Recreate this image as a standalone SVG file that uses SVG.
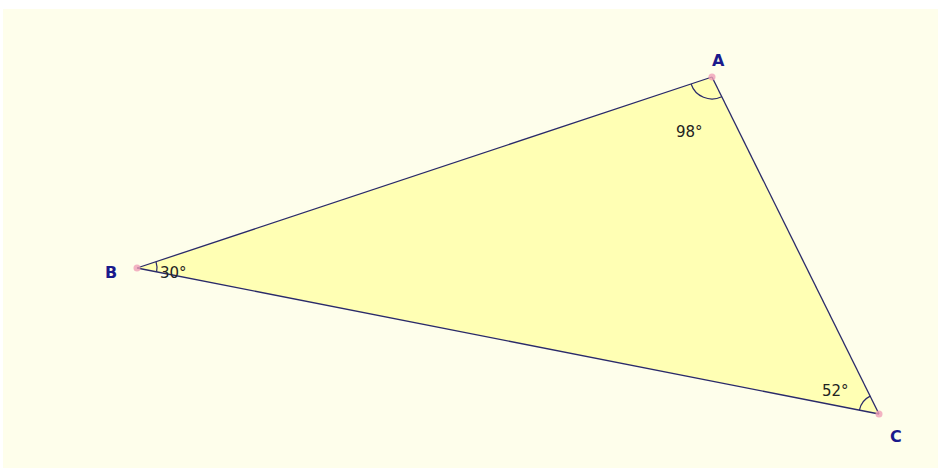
<svg xmlns="http://www.w3.org/2000/svg" width="938" height="470" viewBox="0 0 938 470">
<style>
.lbl{font-family:"DejaVu Sans",Verdana,sans-serif;font-weight:bold;font-size:16px;fill:#1a1a8c}
.ang{font-family:"DejaVu Sans",Verdana,sans-serif;font-size:15px;fill:#222}
.side{stroke:#2a2a6a;stroke-width:1.3;fill:none}
.arc{stroke:#2a2a6a;stroke-width:1.2;fill:none}
.pt{fill:#f0a0b8;opacity:0.8}
</style>
<rect x="0" y="0" width="938" height="470" fill="#ffffff"/>
<rect x="3" y="9" width="935" height="459" fill="#fefeeb"/>
<polygon points="712,77 137,268 879,414" fill="#ffffb4"/>
<g id="connectors">
<line class="side" x1="712" y1="77" x2="137" y2="268"/>
<line class="side" x1="137" y1="268" x2="879" y2="414"/>
<line class="side" x1="879" y1="414" x2="712" y2="77"/>
</g>
<g id="A">
<path class="arc" d="M691.1,84 A22,22 0 0 0 721.7,96.7"/>
<circle class="pt" cx="712" cy="77" r="3.5"/>
<text class="lbl" x="712" y="66">A</text>
<text class="ang" x="676" y="137">98°</text>
</g>
<g id="B">
<path class="arc" d="M156,261.7 A20,20 0 0 1 156.6,271.9"/>
<circle class="pt" cx="137" cy="268" r="3.5"/>
<text class="lbl" x="105" y="278">B</text>
<text class="ang" x="160" y="278">30°</text>
</g>
<g id="C">
<path class="arc" d="M859.4,410.1 A20,20 0 0 1 870.2,396.1"/>
<circle class="pt" cx="879" cy="414" r="3.5"/>
<text class="lbl" x="890" y="442">C</text>
<text class="ang" x="822" y="396">52°</text>
</g>
</svg>
